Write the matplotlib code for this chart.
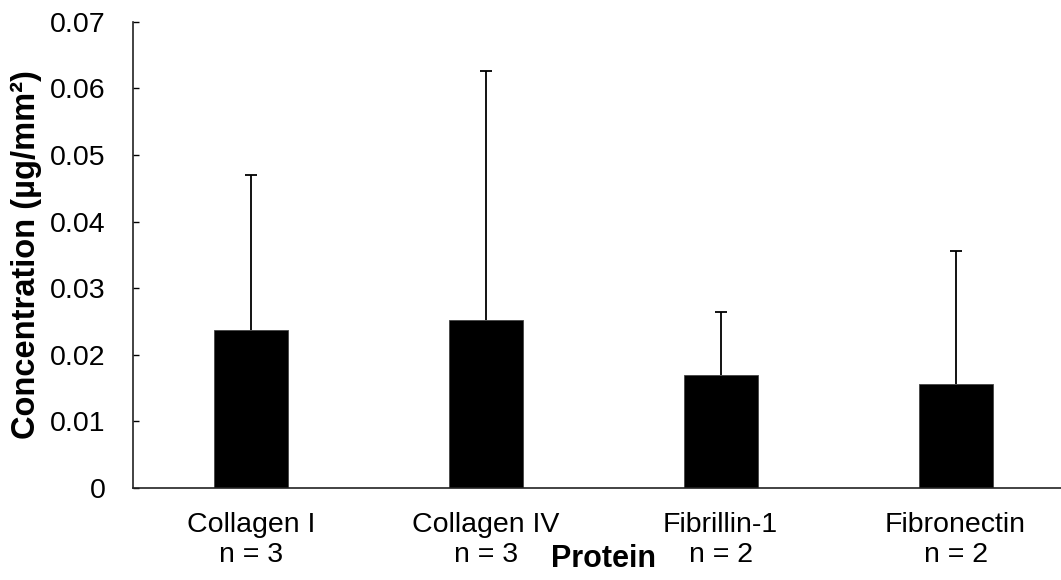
import numpy as np
import matplotlib.pyplot as plt

# --- data ---
proteins = ["Collagen I", "Collagen IV", "Fibrillin-1", "Fibronectin"]
n_samples = [3, 3, 2, 2]
conc_mean = [0.0237, 0.0252, 0.0169, 0.0156]   # µg/mm²
conc_sd   = [0.0233, 0.0374, 0.0095, 0.0200]

plt.rcParams['font.family'] = ['Liberation Sans', 'DejaVu Sans']

fig = plt.figure(figsize=(10.61, 5.80), dpi=100)
# axis runs past the right edge of the figure
ax = fig.add_axes([0.1258, 0.1586, 0.8855, 0.8040])

x = np.arange(len(proteins))
ax.bar(x, conc_mean, width=0.315, color='black', edgecolor='#444444', linewidth=0.6, zorder=2)

# upper error bars only
_, caps, _ = ax.errorbar(x, conc_mean, yerr=[np.zeros(len(x)), conc_sd], fmt='none',
                         ecolor='black', elinewidth=1.3, capsize=4.3, capthick=1.3, zorder=3)
caps[0].set_visible(False)   # drop the cap sitting on the bar top

ax.set_xlim(-0.5, len(proteins) - 0.5)
ax.set_ylim(0, 0.07)
ax.set_yticks(np.arange(0, 0.0701, 0.01))
ax.set_yticklabels(['0'] + [f"{v:.2f}" for v in np.arange(0.01, 0.0701, 0.01)])

ax.set_xticks(x)
ax.set_xticklabels([f"{p}\nn = {n}" for p, n in zip(proteins, n_samples)],
                   linespacing=1.2)

ax.tick_params(axis='y', direction='in', length=4.5, width=1.0, pad=20,
               labelsize=20.5, colors='black')
ax.tick_params(axis='x', length=0, pad=17, labelsize=20.5)

for side in ['top', 'right']:
    ax.spines[side].set_visible(False)
for side in ['left', 'bottom']:
    ax.spines[side].set_linewidth(1.2)
    ax.spines[side].set_color('#222222')

ax.set_ylabel("Concentration (µg/mm²)", fontsize=23.5, fontweight='bold')
ax.yaxis.set_label_coords(-0.0975, 0.5)
ax.set_xlabel("Protein", fontsize=22, fontweight='bold', va='top')
ax.xaxis.set_label_coords(0.5, -0.121)

fig.savefig("out.png", dpi=100)
